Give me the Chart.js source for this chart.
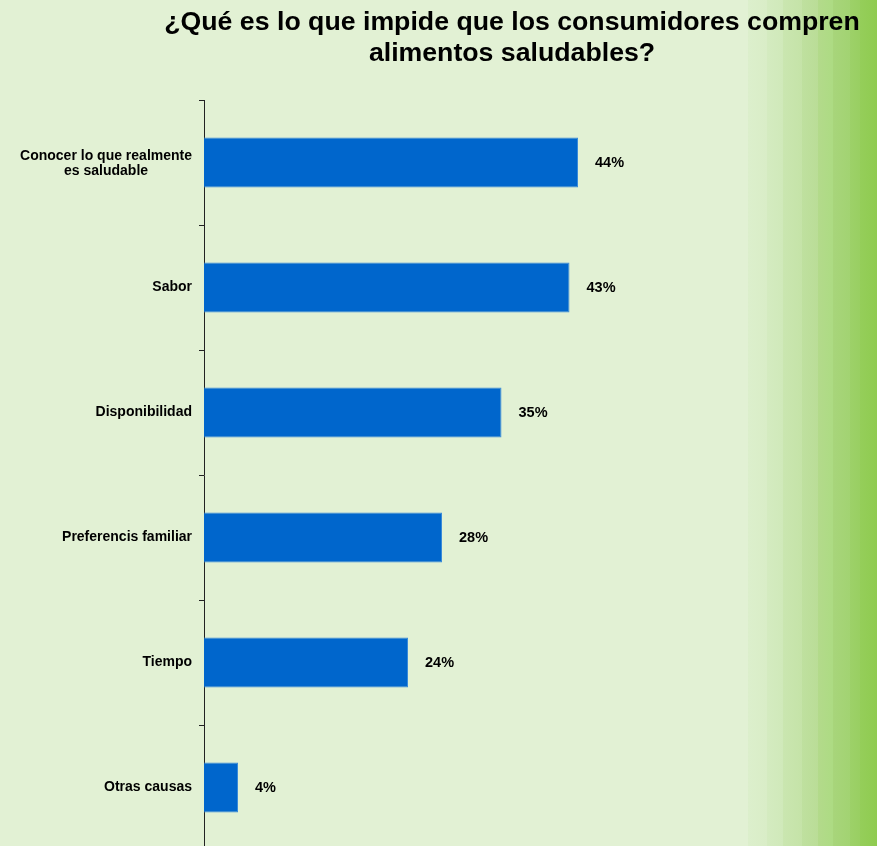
<!DOCTYPE html>
<html>
<head>
<meta charset="utf-8">
<script src="https://cdn.jsdelivr.net/npm/chart.js@4.4.1/dist/chart.umd.min.js"></script>
<style>
  html, body {
    margin: 0;
    padding: 0;
    overflow: hidden;
    width: 877px;
    height: 846px;
  }
  body {
    background: linear-gradient(to right,
      #e2f1d4 0px, #e2f1d4 748px,
      #dcefcc 748px, #d9edc7 767px,
      #d4ebc0 767px, #d0e9ba 783px,
      #cae6b0 783px, #c5e3a8 802px,
      #bfe09f 802px, #badd97 818px,
      #b3da8b 818px, #addb83 833px,
      #a8d57b 833px, #a2d372 850px,
      #9dd169 850px, #99cf62 860px,
      #95ce5a 860px, #8fcb50 877px);
  }
  canvas { display: block; }
</style>
</head>
<body>
<canvas id="chart" width="877" height="850"></canvas>
<script>
const titleLines = ['¿Qué es lo que impide que los consumidores compren', 'alimentos saludables?'];
const categories = [
    ['Conocer lo que realmente', 'es saludable'],
    'Sabor',
    'Disponibilidad',
    'Preferencis familiar',
    'Tiempo',
    'Otras causas'
];
const values = [44, 43, 35, 28, 24, 4];
const valueLabels = ['44%', '43%', '35%', '28%', '24%', '4%'];

const fontFamily = '"Liberation Sans", Arial, sans-serif';

// title, category labels and value labels drawn by hand
const textPlugin = {
    id: 'texts',
    afterDraw(chart) {
        const ctx = chart.ctx;
        const yScale = chart.scales.y;
        ctx.save();
        ctx.fillStyle = '#000';

        ctx.font = 'bold 26.7px ' + fontFamily;
        ctx.textAlign = 'center';
        ctx.textBaseline = 'alphabetic';
        ctx.fillText(titleLines[0], 512, 30);
        ctx.fillText(titleLines[1], 512, 61);

        ctx.font = 'bold 14px ' + fontFamily;
        ctx.textBaseline = 'middle';
        categories.forEach((cat, i) => {
            const lines = Array.isArray(cat) ? cat : [cat];
            const yc = yScale.getPixelForValue(i);
            const w = Math.max(...lines.map(l => ctx.measureText(l).width));
            const cx = 192 - w / 2;
            const lh = 15;
            const shift = lines.length > 1 ? 1 : 0;
            lines.forEach((l, j) => {
                ctx.textAlign = 'center';
                ctx.fillText(l, cx, yc + shift + (j - (lines.length - 1) / 2) * lh);
            });
        });

        ctx.font = 'bold 14.5px ' + fontFamily;
        ctx.textAlign = 'left';
        const meta = chart.getDatasetMeta(0);
        meta.data.forEach((bar, i) => {
            ctx.fillText(valueLabels[i], bar.x + 17, bar.y);
        });
        ctx.restore();
    }
};

new Chart(document.getElementById('chart'), {
    type: 'bar',
    data: {
        labels: categories,
        datasets: [{
            data: values,
            backgroundColor: '#0066cc',
            borderColor: '#3a8ad8',
            borderWidth: 1,
            barPercentage: 0.4,
            categoryPercentage: 1.0
        }]
    },
    options: {
        indexAxis: 'y',
        responsive: false,
        animation: false,
        layout: {
            padding: { left: 199, top: 100, right: 10, bottom: 0 }
        },
        scales: {
            x: {
                display: false,
                min: 0,
                max: 78
            },
            y: {
                display: true,
                grid: {
                    drawOnChartArea: false,
                    drawTicks: true,
                    tickLength: 5,
                    color: '#222'
                },
                border: {
                    display: true,
                    color: '#222',
                    width: 1
                },
                ticks: { display: false }
            }
        },
        plugins: {
            legend: { display: false },
            title: { display: false },
            tooltip: { enabled: false }
        }
    },
    plugins: [textPlugin]
});
</script>
</body>
</html>
